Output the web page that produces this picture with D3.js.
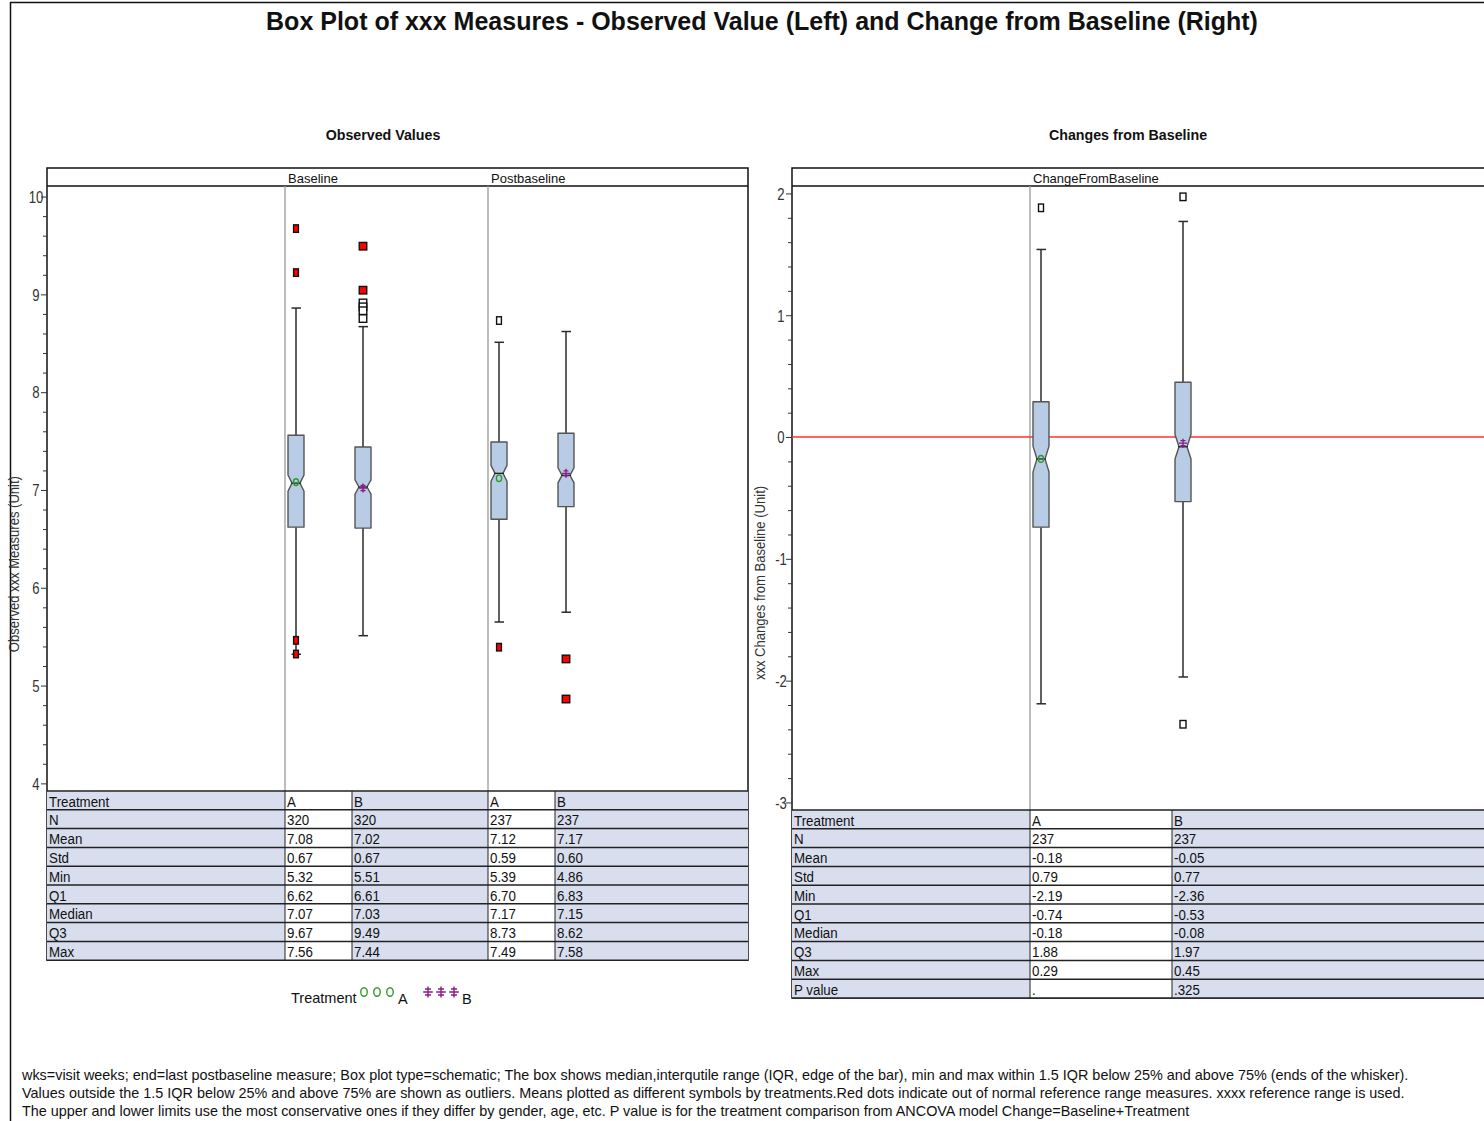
<!DOCTYPE html>
<html>
<head>
<meta charset="utf-8">
<script src="https://cdn.jsdelivr.net/npm/d3@7"></script>
<style>
  body { margin: 0; background: #fff; }
  svg { display: block; }
  text { font-family: "Liberation Sans", Arial, sans-serif; }
</style>
</head>
<body>
<svg id="chart" width="1484" height="1121"></svg>
<script>
// ---------------- data ----------------
const treatments = ["A", "B"];
const obsVisits = ["Baseline", "Postbaseline"];

// Observed values, order: Baseline A, Baseline B, Postbaseline A, Postbaseline B
const obsN = [320, 320, 237, 237];
const obsMean = [7.08, 7.02, 7.12, 7.17];
const obsStd = [0.67, 0.67, 0.59, 0.60];
const obsMin = [5.32, 5.51, 5.39, 4.86];
const obsQ1 = [6.62, 6.61, 6.70, 6.83];
const obsMedian = [7.07, 7.03, 7.17, 7.15];
const obsQ3Row = [9.67, 9.49, 8.73, 8.62];   // printed in the "Q3" row
const obsMaxRow = [7.56, 7.44, 7.49, 7.58];  // printed in the "Max" row (upper hinge of the box)
const obsWhiskerLow = [5.32, 5.51, 5.65, 5.75];
const obsWhiskerHigh = [8.86, 8.67, 8.51, 8.62];
// outliers: [value, outside normal reference range (1) or not (0)]
const obsOutliers = [
  [[9.67, 1], [9.22, 1], [5.46, 1], [5.32, 1]],
  [[9.49, 1], [9.04, 1], [8.91, 0], [8.87, 0], [8.83, 0], [8.75, 0]],
  [[8.73, 0], [5.39, 1]],
  [[5.27, 1], [4.86, 1]]
];

// Change from baseline, order: A, B
const chgN = [237, 237];
const chgMean = [-0.18, -0.05];
const chgStd = [0.79, 0.77];
const chgMin = [-2.19, -2.36];
const chgQ1 = [-0.74, -0.53];
const chgMedian = [-0.18, -0.08];
const chgQ3Row = [1.88, 1.97];
const chgMaxRow = [0.29, 0.45];
const chgPValue = [".", ".325"];
const chgWhiskerLow = [-2.19, -1.97];
const chgWhiskerHigh = [1.54, 1.77];
const chgOutliers = [
  [[1.88, 0]],
  [[1.97, 0], [-2.36, 0]]
];

const obsTicks = [4, 5, 6, 7, 8, 9, 10];
const chgTicks = [-3, -2, -1, 0, 1, 2];

const footnotes = [
  "wks=visit weeks; end=last postbaseline measure; Box plot type=schematic; The box shows median,interqutile range (IQR, edge of the bar), min and max within 1.5 IQR below 25% and above 75% (ends of the whisker).",
  "Values outside the 1.5 IQR below 25% and above 75% are shown as outliers. Means plotted as different symbols by treatments.Red dots indicate out of normal reference range measures. xxxx reference range is used.",
  "The upper and lower limits use the most conservative ones if they differ by gender, age, etc. P value is for the treatment comparison from ANCOVA model Change=Baseline+Treatment"
];

// ---------------- styles ----------------
const BOX_FILL = "#b8cde5";
const BOX_STROKE = "#555";
const WHISKER = "#2b2b2b";
const CELL_BLUE = "#d8deee";
const MEAN_COLOR = { A: "#2f9a2f", B: "#8a1c8a" };
const MARK_W = { A: 4.8, B: 7.5 };
const NARROW = 0.82;        // horizontal squeeze for the condensed label face
const fmt2 = v => v.toFixed(2);

const svg = d3.select("#chart");

// text in a condensed face: regular glyphs squeezed horizontally
function narrowText(g, x, y, str, size, opts = {}) {
  const rot = opts.rotate ? ` rotate(${opts.rotate})` : "";
  return g.append("text")
    .attr("transform", `translate(${x},${y})${rot} scale(${opts.sx || NARROW},1)`)
    .attr("font-size", size)
    .attr("font-weight", opts.bold ? "bold" : null)
    .attr("text-anchor", opts.anchor || "start")
    .attr("fill", opts.fill || "#111")
    .text(str);
}

// page frame
svg.append("line").attr("x1", 10).attr("x2", 1484).attr("y1", 2.5).attr("y2", 2.5).attr("stroke", "#111").attr("stroke-width", 1.5);
svg.append("line").attr("x1", 10.5).attr("x2", 10.5).attr("y1", 2).attr("y2", 1121).attr("stroke", "#111").attr("stroke-width", 1.5);

// titles
svg.append("text").attr("x", 762).attr("y", 30)
  .attr("text-anchor", "middle").attr("font-size", 25).attr("font-weight", "bold").attr("fill", "#111")
  .text("Box Plot of xxx Measures - Observed Value (Left) and Change from Baseline (Right)");
narrowText(svg, 383, 140, "Observed Values", 15, { bold: true, anchor: "middle", sx: 0.95 });
narrowText(svg, 1128, 140, "Changes from Baseline", 15, { bold: true, anchor: "middle", sx: 0.95 });

// ---------------- helpers ----------------
function notchedBox(g, x, y, q1, med, q3, n, w) {
  const iqr = q3 - q1;
  const notch = 1.58 * iqr / Math.sqrt(n);
  const hw = w / 2, nw = w / 4;
  const yHi = y(med + notch), yLo = y(med - notch), yM = y(med);
  const pts = [
    [x - hw, y(q3)], [x + hw, y(q3)], [x + hw, yHi], [x + nw, yM], [x + hw, yLo],
    [x + hw, y(q1)], [x - hw, y(q1)], [x - hw, yLo], [x - nw, yM], [x - hw, yHi]
  ];
  g.append("path").attr("d", d3.line()(pts) + "Z")
    .attr("fill", BOX_FILL).attr("stroke", BOX_STROKE).attr("stroke-width", 1.4).attr("stroke-linejoin", "round");
  g.append("line").attr("x1", x - nw - 1).attr("x2", x + nw + 1).attr("y1", yM).attr("y2", yM)
    .attr("stroke", "#222").attr("stroke-width", 1.3);
}

function whisker(g, x, y, lo, hi, q1, q3) {
  [[hi, q3], [lo, q1]].forEach(([end, hinge]) => {
    g.append("line").attr("x1", x).attr("x2", x).attr("y1", y(end)).attr("y2", y(hinge))
      .attr("stroke", WHISKER).attr("stroke-width", 1.5);
    g.append("line").attr("x1", x - 4.5).attr("x2", x + 5).attr("y1", y(end)).attr("y2", y(end))
      .attr("stroke", WHISKER).attr("stroke-width", 1.5);
  });
}

function outliers(g, x, y, list, w) {
  list.forEach(([v, flag]) => {
    g.append("rect").attr("x", x - w / 2).attr("y", y(v) - 4).attr("width", w).attr("height", 7.5)
      .attr("fill", flag ? "#ff0000" : "#fff").attr("stroke", "#111").attr("stroke-width", 1.4);
  });
}

function meanMarker(g, x, yv, trt, scale = 1) {
  const c = MEAN_COLOR[trt];
  if (trt === "A") {
    g.append("ellipse").attr("cx", x).attr("cy", yv).attr("rx", 2.6 * scale).attr("ry", 3.4 * scale)
      .attr("fill", "none").attr("stroke", c).attr("stroke-width", 1.4);
  } else {
    const a = 4.5 * scale, b = 4 * scale, s = 2.5 * scale;
    g.append("path").attr("d", `M${x},${yv - a}V${yv + a}M${x - b},${yv}H${x + b}M${x - s},${yv - s}H${x + s}M${x - s},${yv + s}H${x + s}`)
      .attr("stroke", c).attr("stroke-width", 1.4).attr("fill", "none");
  }
}

function yAxis(x0, y, majors, minorStep) {
  const g = svg.append("g").attr("transform", `translate(${x0},0)`);
  const [d0, d1] = y.domain();
  const minors = d3.range(Math.ceil(d0 / minorStep) * minorStep, d1, minorStep)
    .filter(v => Math.abs(v - Math.round(v)) > 1e-6);
  g.append("g").call(d3.axisLeft(y).tickValues(minors).tickSize(4).tickFormat(""))
    .call(s => s.select(".domain").remove());
  g.append("g").call(d3.axisLeft(y).tickValues(majors).tickSize(6).tickFormat(d => String(d)))
    .call(s => s.select(".domain").remove())
    .call(s => s.selectAll("text")
      .attr("x", -11 / NARROW).attr("dy", "0.36em")
      .attr("text-anchor", "middle")
      .attr("transform", `scale(${NARROW},1)`)
      .attr("font-size", 16).attr("fill", "#333"));
  g.selectAll(".tick line").attr("stroke", "#333");
}

function table(x0, x1, colEdges, rows, yTop, rowH, whiteCols) {
  const g = svg.append("g");
  rows.forEach((row, r) => {
    const yr = yTop + r * rowH;
    row.forEach((cell, c) => {
      const xa = colEdges[c], xb = colEdges[c + 1];
      g.append("rect").attr("x", xa).attr("y", yr).attr("width", xb - xa).attr("height", rowH)
        .attr("fill", whiteCols.includes(c) ? "#fff" : CELL_BLUE);
      narrowText(g, xa + 2, yr + rowH - 3.2, cell, 15.5, { sx: 0.86 });
    });
  });
  const yBottom = yTop + rows.length * rowH;
  d3.range(rows.length + 1).forEach(r => {
    g.append("line").attr("x1", x0).attr("x2", x1).attr("y1", yTop + r * rowH).attr("y2", yTop + r * rowH)
      .attr("stroke", "#222").attr("stroke-width", 1.5);
  });
  colEdges.slice(1, -1).forEach(xc => {
    g.append("line").attr("x1", xc).attr("x2", xc).attr("y1", yTop).attr("y2", yBottom)
      .attr("stroke", "#222").attr("stroke-width", 1);
  });
}

// ---------------- left panel: observed values ----------------
const L = { x0: 47, x1: 748, top: 168, strip: 186, plotBottom: 791, rowH: 18.8 };
const obsCols = [47, 285, 352, 488, 555, 748];
const obsKeys = obsVisits.flatMap(v => treatments.map(t => `${v}|${t}`));
const xObs = d3.scaleOrdinal().domain(obsKeys).range(obsCols.slice(1, 5).map(e => e + 11));
const yObs = d3.scaleLinear().domain([3.922, 10.108]).range([L.plotBottom, L.strip]);
const obsBottom = L.plotBottom + 9 * L.rowH;

// panel frame and strip
svg.append("rect").attr("x", L.x0).attr("y", L.top).attr("width", L.x1 - L.x0).attr("height", obsBottom - L.top)
  .attr("fill", "#fff").attr("stroke", "#111").attr("stroke-width", 1.5);
svg.append("line").attr("x1", L.x0).attr("x2", L.x1).attr("y1", L.strip).attr("y2", L.strip).attr("stroke", "#111").attr("stroke-width", 1.5);
[obsCols[1], obsCols[3]].forEach((xd, i) => {
  svg.append("line").attr("x1", xd).attr("x2", xd).attr("y1", L.strip).attr("y2", L.plotBottom)
    .attr("stroke", "#999").attr("stroke-width", 1.3);
  svg.append("text").attr("x", xd + 3).attr("y", L.strip - 3.5)
    .attr("font-size", 13).attr("fill", "#111").text(obsVisits[i]);
});

yAxis(L.x0, yObs, obsTicks, 0.2);
narrowText(svg, 19, (L.top + obsBottom) / 2, "Observed xxx Measures (Unit)", 14.5, { rotate: -90, anchor: "middle", fill: "#333", sx: 0.9 });

const gObs = svg.append("g");
obsKeys.forEach((k, i) => {
  const trt = k.split("|")[1];
  const x = xObs(k);
  whisker(gObs, x, yObs, obsWhiskerLow[i], obsWhiskerHigh[i], obsQ1[i], obsMaxRow[i]);
  notchedBox(gObs, x, yObs, obsQ1[i], obsMedian[i], obsMaxRow[i], obsN[i], 16);
  meanMarker(gObs, x, yObs(obsMean[i]), trt);
  outliers(gObs, x, yObs, obsOutliers[i], MARK_W[trt]);
});

const obsRows = [["Treatment", ...obsKeys.map(k => k.split("|")[1])],
  ["N", ...obsN.map(String)],
  ["Mean", ...obsMean.map(fmt2)],
  ["Std", ...obsStd.map(fmt2)],
  ["Min", ...obsMin.map(fmt2)],
  ["Q1", ...obsQ1.map(fmt2)],
  ["Median", ...obsMedian.map(fmt2)],
  ["Q3", ...obsQ3Row.map(fmt2)],
  ["Max", ...obsMaxRow.map(fmt2)]];
table(L.x0, L.x1, obsCols, obsRows, L.plotBottom, L.rowH, [1, 3]);

// legend
const lg = svg.append("g");
lg.append("text").attr("x", 291).attr("y", 1003).attr("font-size", 14.5).attr("fill", "#111").text("Treatment");
[364, 377, 390].forEach(x => meanMarker(lg, x, 992, "A", 1.25));
lg.append("text").attr("x", 398).attr("y", 1004).attr("font-size", 14.5).attr("fill", "#111").text(treatments[0]);
[428, 441, 454].forEach(x => meanMarker(lg, x, 992, "B", 1.2));
lg.append("text").attr("x", 462).attr("y", 1004).attr("font-size", 14.5).attr("fill", "#111").text(treatments[1]);

// ---------------- right panel: change from baseline ----------------
const R = { x0: 792, x1: 1490, top: 168, strip: 186, plotBottom: 810, rowH: 18.8 };
const chgCols = [792, 1030, 1172, 1490];
const xChg = d3.scaleOrdinal().domain(treatments).range(chgCols.slice(1, 3).map(e => e + 11));
const yChg = d3.scaleLinear().domain([-3.062, 2.061]).range([R.plotBottom, R.strip]);
const chgBottom = R.plotBottom + 10 * R.rowH;

svg.append("rect").attr("x", R.x0).attr("y", R.top).attr("width", R.x1 - R.x0).attr("height", chgBottom - R.top)
  .attr("fill", "#fff").attr("stroke", "#111").attr("stroke-width", 1.5);
svg.append("line").attr("x1", R.x0).attr("x2", R.x1).attr("y1", R.strip).attr("y2", R.strip).attr("stroke", "#111").attr("stroke-width", 1.5);
svg.append("line").attr("x1", chgCols[1]).attr("x2", chgCols[1]).attr("y1", R.strip).attr("y2", R.plotBottom)
  .attr("stroke", "#999").attr("stroke-width", 1.3);
svg.append("text").attr("x", chgCols[1] + 3).attr("y", R.strip - 3.5)
  .attr("font-size", 13).attr("fill", "#111").text("ChangeFromBaseline");

yAxis(R.x0, yChg, chgTicks, 0.2);
narrowText(svg, 765, (R.top + chgBottom) / 2, "xxx Changes from Baseline (Unit)", 14.5, { rotate: -90, anchor: "middle", fill: "#333", sx: 0.9 });

// reference line at zero change
svg.append("line").attr("x1", R.x0).attr("x2", R.x1).attr("y1", yChg(0)).attr("y2", yChg(0))
  .attr("stroke", "#ff3030").attr("stroke-width", 1.5);

const gChg = svg.append("g");
treatments.forEach((t, i) => {
  const x = xChg(t);
  whisker(gChg, x, yChg, chgWhiskerLow[i], chgWhiskerHigh[i], chgQ1[i], chgMaxRow[i]);
  notchedBox(gChg, x, yChg, chgQ1[i], chgMedian[i], chgMaxRow[i], chgN[i], 16);
  meanMarker(gChg, x, yChg(chgMean[i]), t);
  outliers(gChg, x, yChg, chgOutliers[i], t === "A" ? 5 : 6);
});

const chgRows = [["Treatment", ...treatments],
  ["N", ...chgN.map(String)],
  ["Mean", ...chgMean.map(fmt2)],
  ["Std", ...chgStd.map(fmt2)],
  ["Min", ...chgMin.map(fmt2)],
  ["Q1", ...chgQ1.map(fmt2)],
  ["Median", ...chgMedian.map(fmt2)],
  ["Q3", ...chgQ3Row.map(fmt2)],
  ["Max", ...chgMaxRow.map(fmt2)],
  ["P value", ...chgPValue]];
table(R.x0, R.x1, chgCols, chgRows, R.plotBottom, R.rowH, [1]);

// ---------------- footnotes ----------------
footnotes.forEach((t, i) => {
  svg.append("text").attr("x", 22).attr("y", 1080 + i * 18)
    .attr("font-size", 14.4).attr("fill", "#111").text(t);
});
</script>
</body>
</html>
